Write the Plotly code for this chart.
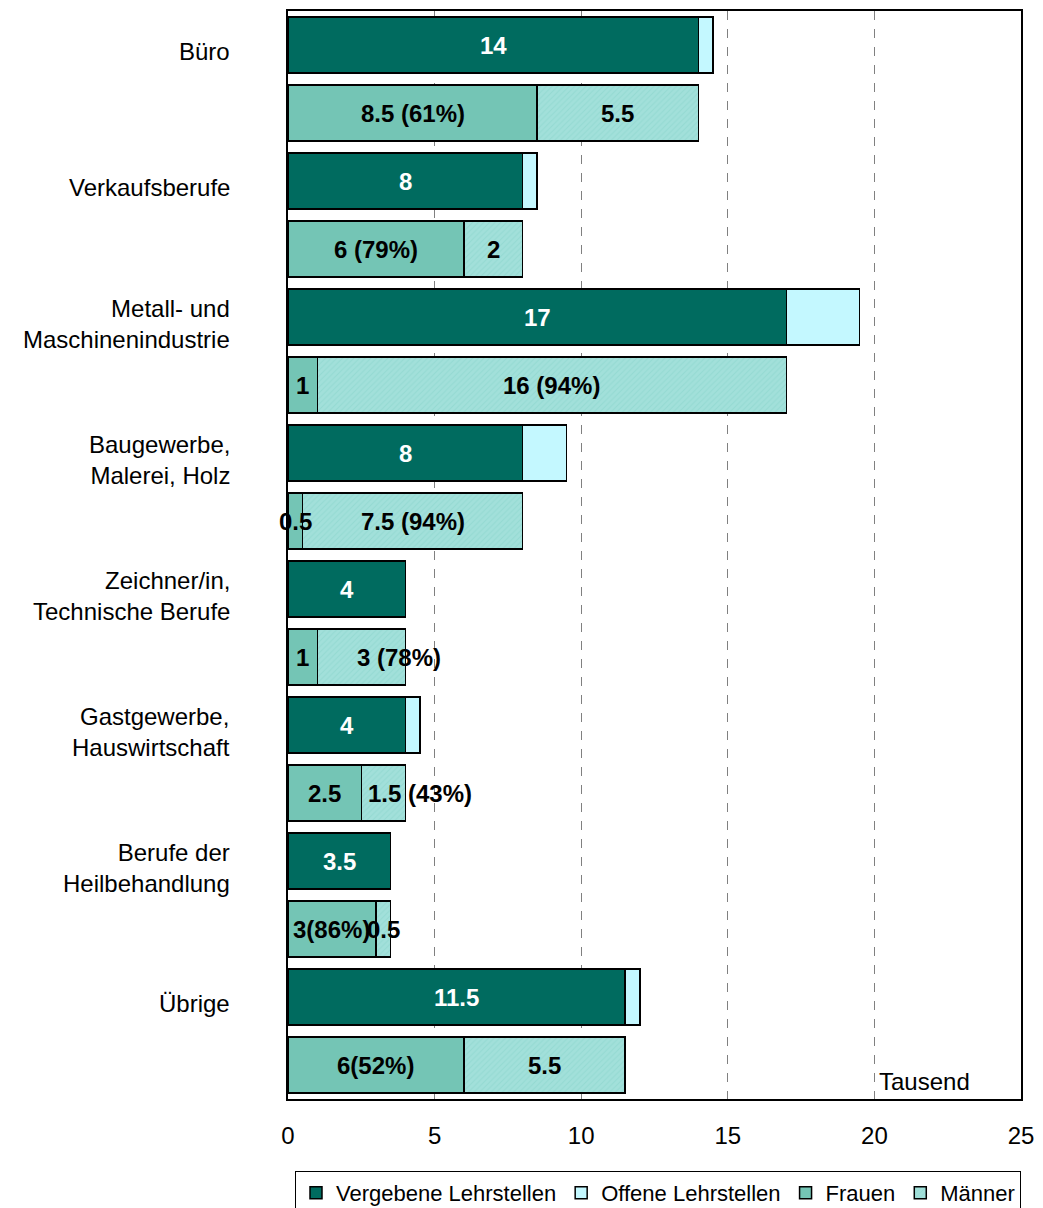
import plotly.graph_objects as go

categories = ["Büro", "Verkaufsberufe", "Metall- und<br>Maschinenindustrie",
              "Baugewerbe,<br>Malerei, Holz", "Zeichner/in,<br>Technische Berufe",
              "Gastgewerbe,<br>Hauswirtschaft", "Berufe der<br>Heilbehandlung", "Übrige"]
vergeben = [14, 8, 17, 8, 4, 4, 3.5, 11.5]
offen = [0.5, 0.5, 2.5, 1.5, 0, 0.5, 0, 0.5]
frauen = [8.5, 6, 1, 0.5, 1, 2.5, 3, 6]
maenner = [5.5, 2, 16, 7.5, 3, 1.5, 0.5, 5.5]
vergeben_labels = ["14", "8", "17", "8", "4", "4", "3.5", "11.5"]
frauen_labels = ["8.5 (61%)", "6 (79%)", "1", "0.5", "1", "2.5", "3(86%)", "6(52%)"]
maenner_labels = ["5.5", "2", "16 (94%)", "7.5 (94%)", "3 (78%)", "1.5 (43%)", "0.5", "5.5"]
# labels whose leading number (not the whole text) is centred on the segment
maenner_num_centered = [False, False, False, False, True, True, False, False]
x_ticks = [0, 5, 10, 15, 20, 25]

FONT = "Arial, Liberation Sans, sans-serif"
C_VERG = "#006B5F"
C_OFF = "#C4F8FF"
C_FRAU = "#74C5B5"
C_MANN = "#A2E0DA"

n = len(categories)
row_top = [2 * i for i in range(n)]
row_bot = [2 * i + 1 for i in range(n)]
line = dict(color="black", width=1.5)
W = 0.82

fig = go.Figure()
fig.add_trace(go.Bar(y=row_top, x=vergeben, orientation="h", name="Vergebene Lehrstellen",
                     marker=dict(color=C_VERG, line=line), width=W))
fig.add_trace(go.Bar(y=row_top, x=offen, orientation="h", name="Offene Lehrstellen",
                     marker=dict(color=C_OFF, line=line), width=W))
fig.add_trace(go.Bar(y=row_bot, x=frauen, orientation="h", name="Frauen",
                     marker=dict(color=C_FRAU, line=line), width=W))
fig.add_trace(go.Bar(y=row_bot, x=maenner, orientation="h", name="Männer",
                     marker=dict(color=C_MANN, line=line,
                                 pattern=dict(shape="/", fgcolor="#86D2C9", bgcolor=C_MANN,
                                              size=4, solidity=0.25)),
                     width=W))

annotations = []
bold = dict(family=FONT, size=24, weight="bold")
for i in range(n):
    annotations.append(dict(x=vergeben[i] / 2, y=row_top[i], xref="x", yref="y",
                            text=vergeben_labels[i], showarrow=False,
                            font=dict(bold, color="white")))
    annotations.append(dict(x=frauen[i] / 2, y=row_bot[i], xref="x", yref="y",
                            text=frauen_labels[i], showarrow=False,
                            font=dict(bold, color="black")))
    mx = frauen[i] + maenner[i] / 2
    if maenner_num_centered[i]:
        num = maenner_labels[i].split(" ")[0]
        shift = -len(num) * 13.3 / 2 + (3 if "." in num else 0)
        annotations.append(dict(x=mx, y=row_bot[i], xref="x", yref="y",
                                text=maenner_labels[i], showarrow=False, xanchor="left",
                                xshift=shift, font=dict(bold, color="black")))
    else:
        annotations.append(dict(x=mx, y=row_bot[i], xref="x", yref="y",
                                text=maenner_labels[i], showarrow=False,
                                font=dict(bold, color="black")))
    annotations.append(dict(x=0, y=row_top[i] + 0.1, xref="paper", yref="y",
                            text=categories[i], showarrow=False, xanchor="right",
                            xshift=-56, align="right",
                            font=dict(family=FONT, size=24, color="black")))

annotations.append(dict(x=20, y=0, xref="x", yref="paper", text="Tausend",
                        showarrow=False, xanchor="left", yanchor="bottom", xshift=3, yshift=2,
                        font=dict(family=FONT, size=24, color="black")))

# page body has an 8px margin; figure is sized to fit the 1043x1208 window
FIG_W, FIG_H = 1035, 1200
fig.update_layout(
    width=FIG_W, height=FIG_H,
    margin=dict(l=280, r=22, t=3, b=109, autoexpand=False),
    barmode="stack",
    plot_bgcolor="white", paper_bgcolor="white",
    font=dict(family=FONT, size=24, color="black"),
    annotations=annotations,
    showlegend=True,
    legend=dict(orientation="h", traceorder="normal",
                xref="container", x=(1021 - 8) / FIG_W, xanchor="right",
                yref="container", y=1 - (1171 - 8) / FIG_H, yanchor="top",
                bgcolor="white", bordercolor="black", borderwidth=1,
                font=dict(family=FONT, size=22, color="black"),
                itemwidth=30, tracegroupgap=0),
    xaxis=dict(range=[0, 25], tickvals=x_ticks, ticktext=[str(v) for v in x_ticks],
               showgrid=True, gridcolor="#808080", griddash="dash", gridwidth=1,
               showline=True, linecolor="black", linewidth=1.5, mirror=True,
               zeroline=False, ticks="", ticklabelstandoff=14,
               tickfont=dict(family=FONT, size=24, color="black")),
    yaxis=dict(range=[15.5, -0.5], showticklabels=False, showgrid=False, zeroline=False,
               showline=True, linecolor="black", linewidth=1.5, mirror=True, ticks=""),
)

fig.write_html("out.html")
